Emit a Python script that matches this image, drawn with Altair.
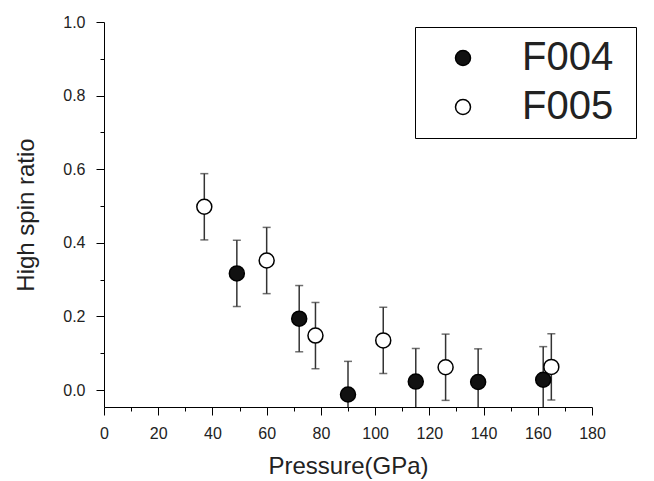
import altair as alt
import pandas as pd

series_names = ["F004", "F005"]

f004_pressure = [49, 72, 90, 115, 138, 162]
f004_ratio = [0.317, 0.194, -0.012, 0.023, 0.022, 0.028]
f004_err = [0.09, 0.09, 0.09, 0.09, 0.09, 0.09]

f005_pressure = [37, 60, 78, 103, 126, 165]
f005_ratio = [0.498, 0.352, 0.148, 0.135, 0.062, 0.063]
f005_err = [0.09, 0.09, 0.09, 0.09, 0.09, 0.09]

x_major_ticks = [0, 20, 40, 60, 80, 100, 120, 140, 160, 180]
x_minor_ticks = [10, 30, 50, 70, 90, 110, 130, 150, 170]
y_major_ticks = [0.0, 0.2, 0.4, 0.6, 0.8, 1.0]
y_minor_ticks = [0.1, 0.3, 0.5, 0.7, 0.9]

rows = []
for name, ps, rs, es in [("F004", f004_pressure, f004_ratio, f004_err),
                         ("F005", f005_pressure, f005_ratio, f005_err)]:
    for p, r, e in zip(ps, rs, es):
        rows.append({"series": name, "p": p, "r": r, "lo": r - e, "hi": r + e})
df = pd.DataFrame(rows)

FONT = "Liberation Sans"
TXT = "#222222"

x_scale = alt.Scale(domain=[0, 180], nice=False, zero=False)
y_scale = alt.Scale(domain=[-0.046, 1.0], nice=False, zero=False)

x_axis = alt.Axis(
    title="Pressure(GPa)", values=x_major_ticks, grid=False,
    tickSize=8, labelPadding=10, titlePadding=13,
    labelFont=FONT, labelFontSize=16, labelColor=TXT,
    titleFont=FONT, titleFontSize=24, titleFontWeight="normal", titleColor=TXT,
    domainColor="black", tickColor="black", domainWidth=1, tickWidth=1,
    labelFlush=False, orient="bottom",
)
y_axis = alt.Axis(
    title="High spin ratio", values=y_major_ticks, grid=False, format=".1f",
    tickSize=8, labelPadding=11, titlePadding=24,
    labelFont=FONT, labelFontSize=16, labelColor=TXT,
    titleFont=FONT, titleFontSize=24, titleFontWeight="normal", titleColor=TXT,
    domainColor="black", tickColor="black", domainWidth=1, tickWidth=1,
    labelFlush=False, orient="left",
)
x_minor_axis = alt.Axis(
    title=None, values=x_minor_ticks, grid=False, labels=False, domain=False,
    tickSize=4, tickColor="black", tickWidth=1, orient="bottom",
)
y_minor_axis = alt.Axis(
    title=None, values=y_minor_ticks, grid=False, labels=False, domain=False,
    tickSize=4, tickColor="black", tickWidth=1, orient="left",
)

base = alt.Chart(df)

minor = base.mark_point(opacity=0).encode(
    x=alt.X("p:Q", scale=x_scale, axis=x_minor_axis),
    y=alt.Y("r:Q", scale=y_scale, axis=y_minor_axis),
)

bars = base.mark_rule(color="#333333", strokeWidth=1.5, clip=True).encode(
    x=alt.X("p:Q", scale=x_scale, axis=x_axis),
    y=alt.Y("lo:Q", scale=y_scale, axis=y_axis),
    y2="hi:Q",
)

caps = base.transform_fold(["lo", "hi"], as_=["end", "val"]).mark_tick(
    orient="horizontal", size=8, thickness=1.5, color="#333333", clip=True
).encode(
    x=alt.X("p:Q", scale=x_scale, axis=None),
    y=alt.Y("val:Q", scale=y_scale, axis=None),
)

points = base.mark_point(
    shape="circle", size=225, stroke="black", strokeWidth=1.5, opacity=1, fillOpacity=1, filled=False
).encode(
    x=alt.X("p:Q", scale=x_scale, axis=None),
    y=alt.Y("r:Q", scale=y_scale, axis=None),
    fill=alt.Fill(
        "series:N",
        scale=alt.Scale(domain=series_names, range=["#111111", "white"]),
        legend=alt.Legend(
            title=None, orient="none", legendX=311, legendY=5,
            padding=11, symbolOffset=17, labelOffset=39, rowPadding=9,
            strokeColor="black", fillColor="white",
            labelFont=FONT, labelFontSize=40, labelColor=TXT,
            labelExpr="datum.label + '\u00a0\u200b'",
            symbolType="circle", symbolSize=225, symbolStrokeColor="black",
            symbolStrokeWidth=1.5,
        ),
    ),
)

chart = alt.layer(minor, bars, caps, points).resolve_axis(
    x="independent", y="independent"
).properties(
    width=488, height=385,
    view=alt.ViewBackground(strokeOpacity=0, strokeWidth=0),
    autosize=alt.AutoSizeParams(type="none"),
    padding={"left": 96, "top": 14, "right": 50, "bottom": 73},
).configure_view(strokeOpacity=0, strokeWidth=0).configure(background="white")

chart.save("out.html", embed_options={"renderer": "svg", "actions": False})
